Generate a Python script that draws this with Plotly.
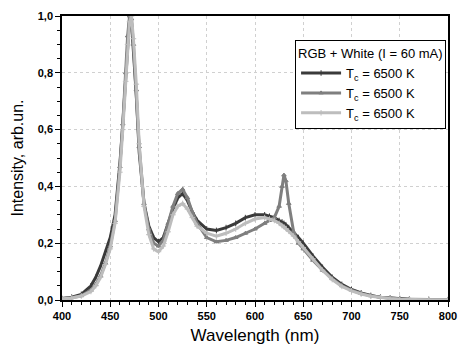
import plotly.graph_objects as go

wavelength = [400, 410, 420, 430, 435, 440, 445, 450, 455, 460, 463, 466, 468, 470, 472, 474, 477, 480,
              485, 490, 495, 500, 505, 510, 515, 520, 525, 530, 535, 540, 550, 560, 570, 580, 590, 600,
              610, 615, 620, 625, 628, 630, 632, 635, 640, 645, 650, 660, 670, 680, 690, 700, 710, 720,
              730, 740, 750, 760, 780, 800]

series1 = [.005, .01, .02, .05, .08, .12, .17, .22, .30, .48, .62, .78, .9, .99, .98, .88, .72, .52,
           .34, .26, .22, .205, .22, .27, .32, .36, .375, .35, .31, .28, .25, .245, .255, .27, .29, .30,
           .30, .295, .29, .28, .275, .27, .265, .255, .24, .22, .20, .155, .115, .08, .055, .037, .025, .016,
           .01, .007, .005, .003, .002, .001]

series2 = [.005, .008, .015, .035, .055, .085, .13, .19, .28, .47, .62, .8, .93, 1.0, .99, .9, .74, .54,
           .34, .25, .2, .19, .21, .27, .33, .375, .39, .36, .31, .27, .22, .205, .21, .22, .235, .25,
           .27, .28, .29, .33, .4, .44, .42, .34, .24, .2, .18, .14, .105, .075, .05, .035, .023, .015,
           .01, .006, .004, .003, .002, .001]

series3 = [.004, .007, .014, .03, .05, .08, .125, .18, .27, .45, .6, .77, .9, .98, 1.0, .92, .76, .55,
           .33, .23, .18, .17, .19, .24, .3, .33, .34, .32, .29, .26, .235, .225, .235, .25, .27, .285,
           .29, .285, .28, .27, .262, .258, .252, .242, .225, .205, .185, .145, .105, .072, .048, .032, .021, .013,
           .008, .005, .003, .002, .001, .001]

names = ["T<sub>c</sub> = 6500 K", "T<sub>c</sub> = 6500 K", "T<sub>c</sub> = 6500 K"]
colors = ["#3a3a3a", "#7f7f7f", "#bdbdbd"]
symbols = ["line-ns-open", "triangle-up", "cross-thin-open"]

y_tickvals = [0, 0.2, 0.4, 0.6, 0.8, 1.0]
y_ticktext = ["0,0", "0,2", "0,4", "0,6", "0,8", "1,0"]
x_tickvals = [400, 450, 500, 550, 600, 650, 700, 750, 800]

fig = go.Figure()
for ys, nm, c, s in zip([series1, series2, series3], names, colors, symbols):
    fig.add_trace(go.Scatter(
        x=wavelength, y=ys, name=nm, mode="lines+markers",
        line=dict(color=c, width=3),
        marker=dict(symbol=s, size=4, color=c, line=dict(color=c, width=1)),
    ))

axis_common = dict(
    showline=True, linecolor="black", linewidth=1.5, mirror=True,
    ticks="outside", ticklen=5, tickwidth=1.2, tickcolor="black",
    showgrid=True, gridcolor="#d0d0d0", griddash="dot", gridwidth=1,
    zeroline=False, automargin=False,
    tickfont=dict(family="Liberation Sans, Arial, sans-serif", size=11, color="black", weight="bold"),
)

fig.update_layout(
    width=465, height=346,
    margin=dict(l=54, r=25, t=8, b=54),
    paper_bgcolor="white", plot_bgcolor="white",
    font=dict(family="Liberation Sans, Arial, sans-serif", color="black"),
    xaxis=dict(range=[400, 800], tickvals=x_tickvals,
               minor=dict(dtick=10, ticks="outside", ticklen=3, tickcolor="black", showgrid=False),
               title=dict(text="Wavelength (nm)", font=dict(size=17), standoff=8),
               **axis_common),
    yaxis=dict(range=[0, 1.0], tickvals=y_tickvals, ticktext=y_ticktext,
               minor=dict(tickvals=[0.05, 0.1, 0.15, 0.25, 0.3, 0.35, 0.45, 0.5, 0.55, 0.65, 0.7, 0.75, 0.85, 0.9, 0.95],
                          ticks="outside", ticklen=3, tickcolor="black", showgrid=False),
               title=dict(text="Intensity, arb.un.", font=dict(size=16), standoff=10),
               **axis_common),
    legend=dict(
        x=0.995, xanchor="right", y=0.915, yanchor="top",
        bgcolor="white", bordercolor="black", borderwidth=1,
        title=dict(text="RGB + White (I = 60 mA)", font=dict(size=13)),
        font=dict(size=13), tracegroupgap=0, itemwidth=40,
    ),
    showlegend=True,
)

fig.write_html("out.html")
